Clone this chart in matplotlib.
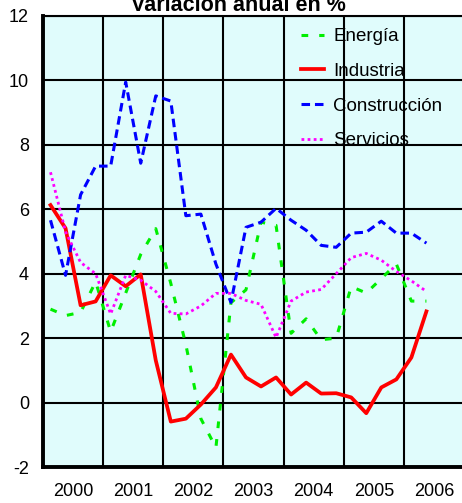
import matplotlib
matplotlib.use("Agg")
import matplotlib.pyplot as plt
import numpy as np

plt.rcParams['font.family'] = ['Liberation Sans', 'DejaVu Sans']
plt.rcParams['axes.unicode_minus'] = False

# datos trimestrales 2000T1 - 2006T2
years = [2000, 2001, 2002, 2003, 2004, 2005, 2006]
energia = [2.9, 2.7, 2.8, 3.75, 2.2, 3.4, 4.6, 5.4, 3.7, 1.8, -0.5, -1.4, 3.1,
           3.5, 5.6, 5.5, 2.15, 2.6, 1.95, 2.0, 3.6, 3.4, 3.85, 4.3, 3.15, 3.15]
industria = [6.13, 5.41, 3.02, 3.14, 3.95, 3.61, 3.98, 1.31, -0.59, -0.5, -0.06,
             0.47, 1.49, 0.78, 0.5, 0.78, 0.25, 0.62, 0.28, 0.29, 0.16, -0.33,
             0.47, 0.72, 1.4, 2.83]
construccion = [5.66, 3.95, 6.45, 7.34, 7.34, 9.95, 7.43, 9.52, 9.36, 5.8, 5.85,
                4.3, 3.11, 5.44, 5.6, 6.03, 5.66, 5.35, 4.88, 4.82, 5.26, 5.29,
                5.63, 5.26, 5.26, 4.95]
servicios = [7.15, 5.3, 4.35, 4.0, 2.75, 3.95, 3.8, 3.45, 2.77, 2.75, 3.0, 3.39,
             3.39, 3.17, 3.05, 2.02, 3.15, 3.43, 3.51, 4.0, 4.5, 4.63, 4.42,
             4.07, 3.78, 3.45]

x = years[0] + (np.arange(len(energia)) + 0.5) / 4

fig = plt.figure(figsize=(4.62, 5.03), dpi=100)
ax = fig.add_axes([43/462, 1-467/503, 421/462, 451/503])
ax.set_facecolor('#E0FCFC')

ax.plot(x, energia, color='#00EE00', lw=2.2, dashes=(2.2, 3.6), label='Energía')
ax.plot(x, industria, color='#FF0000', lw=2.7, label='Industria')
ax.plot(x, construccion, color='#0000FF', lw=2.2, dashes=(2.8, 1.6), label='Construcción')
ax.plot(x, servicios, color='#FF00FF', lw=2.0, dashes=(1.0, 1.2), label='Servicios')

ax.set_xlim(2000, 2007)
ax.set_ylim(-2, 12)
ax.set_yticks(range(-2, 13, 2))
ax.set_xticks(range(2000, 2008))
ax.set_xticklabels([])
ax.set_xticks([y + 0.5 for y in years], minor=True)
ax.set_xticklabels([str(y) for y in years], minor=True)
ax.tick_params(axis='both', which='both', length=0, labelsize=13)
ax.tick_params(axis='y', pad=10)
ax.tick_params(axis='x', which='minor', pad=11.5)
ax.grid(True, which='major', color='black', lw=1.5)

for s in ['left', 'bottom']:
    ax.spines[s].set_linewidth(2.8)
ax.spines['top'].set_linewidth(1.5)
ax.spines['right'].set_visible(False)

ax.legend(loc='upper left', bbox_to_anchor=(0.572, 1.01), frameon=False,
          fontsize=13.5, handlelength=1.25, handletextpad=0.5, labelspacing=0.93)

fig.text(238/462, 1-11/503, 'Variación anual en %', ha='center', va='baseline',
         fontsize=15.5, fontweight='bold')

fig.savefig('out.png', dpi=100)
